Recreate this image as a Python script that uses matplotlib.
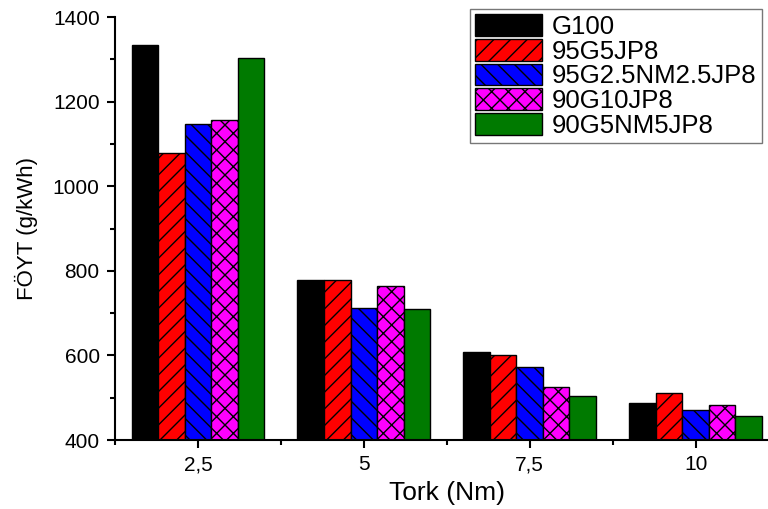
import numpy as np
import matplotlib
matplotlib.use('Agg')
import matplotlib.pyplot as plt
from matplotlib.ticker import MultipleLocator, FixedLocator

plt.rcParams['font.family'] = ['Liberation Sans', 'DejaVu Sans']
plt.rcParams['hatch.linewidth'] = 1.0

# podaci
tork = ['2,5', '5', '7,5', '10']
seriler = ['G100', '95G5JP8', '95G2.5NM2.5JP8', '90G10JP8', '90G5NM5JP8']
g100 = [1334, 778, 609, 487]
g95_jp8 = [1078, 778, 601, 512]
g95_nm_jp8 = [1146, 713, 572, 472]
g90_jp8 = [1157, 765, 525, 482]
g90_nm_jp8 = [1303, 709, 505, 457]

degerler = [g100, g95_jp8, g95_nm_jp8, g90_jp8, g90_nm_jp8]
renkler = ['#000000', '#ff0000', '#0000ff', '#ff00ff', '#007a00']
taramalar = [None, '//', '\\\\', 'xx', None]

fig = plt.figure(figsize=(7.68, 5.09), dpi=100)
ax = fig.add_axes([115/768, 69/509, 663.5/768, 423/509])

x = np.arange(len(tork))
w = 0.16
for i in range(len(seriler)):
    ax.bar(x + (i - 2) * w, np.array(degerler[i]) - 400, w, bottom=400,
           color=renkler[i], edgecolor='black', linewidth=1.0,
           hatch=taramalar[i], label=seriler[i])

ax.set_xlim(-0.5, 3.5)
ax.set_ylim(400, 1400)
ax.set_xticks(x)
ax.set_xticklabels(tork)
ax.xaxis.set_minor_locator(FixedLocator([-0.5, 0.5, 1.5, 2.5, 3.5]))
ax.yaxis.set_major_locator(MultipleLocator(200))
ax.yaxis.set_minor_locator(MultipleLocator(100))

ax.spines['top'].set_visible(False)
ax.spines['right'].set_visible(False)
ax.spines['left'].set_linewidth(1.5)
ax.spines['bottom'].set_linewidth(1.5)
ax.tick_params(which='major', direction='out', length=6, width=1.5,
               labelsize=15, pad=5)
ax.tick_params(which='minor', direction='out', length=3.5, width=1.5)

ax.set_xlabel('Tork (Nm)', fontsize=19, labelpad=5)
ax.set_ylabel('FÖYT (g/kWh)', fontsize=16, labelpad=11)

leg = ax.legend(loc='upper right', bbox_to_anchor=(762/768, 1 - 9/509),
                bbox_transform=fig.transFigure, borderaxespad=0,
                fontsize=18.5, frameon=True, fancybox=False,
                handlelength=2.6, handleheight=0.93, handletextpad=0.4,
                labelspacing=0.0, borderpad=0.2)
leg.get_frame().set_edgecolor('#555555')
leg.get_frame().set_linewidth(1.0)

plt.savefig('out.png', dpi=100)
